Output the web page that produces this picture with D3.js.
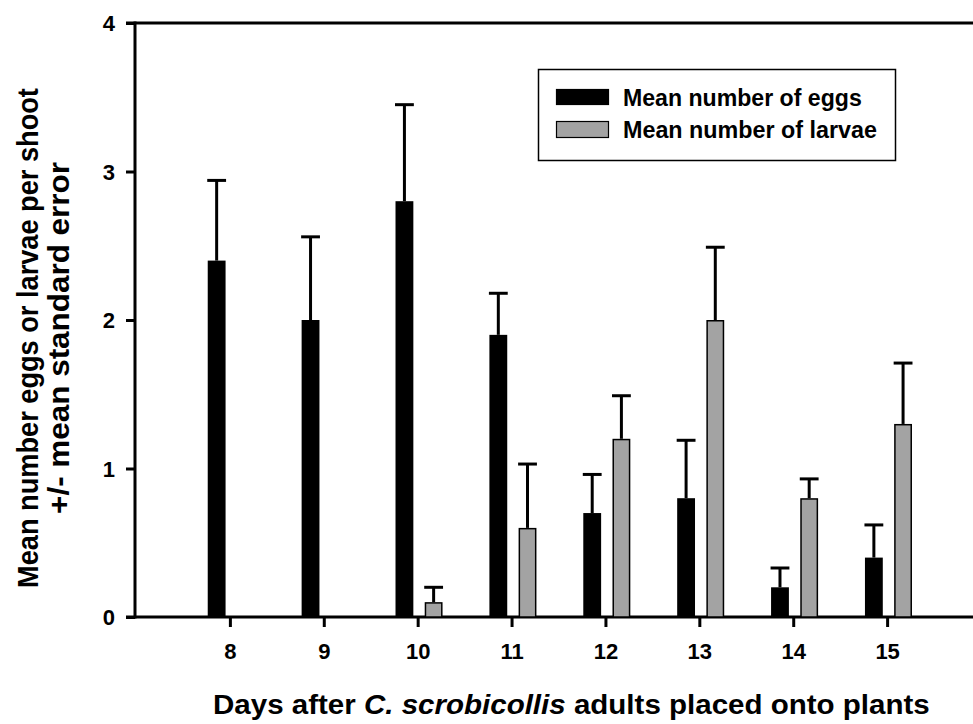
<!DOCTYPE html>
<html>
<head>
<meta charset="utf-8">
<script src="https://cdn.jsdelivr.net/npm/d3@7/dist/d3.min.js"></script>
<style>
  html, body { margin: 0; padding: 0; background: #fff; }
  svg { display: block; }
  text { font-family: "Liberation Sans", Arial, Helvetica, sans-serif; font-weight: bold; fill: #000; }
</style>
</head>
<body>
<svg id="chart" width="973" height="724"></svg>
<script>
// Days after adults were placed onto plants
const days = [8, 9, 10, 11, 12, 13, 14, 15];
// Mean number of eggs per shoot and its standard error
const eggMeans = [2.4, 2.0, 2.8, 1.9, 0.7, 0.8, 0.2, 0.4];
const eggSE    = [0.54, 0.56, 0.65, 0.28, 0.26, 0.39, 0.13, 0.22];
// Mean number of larvae per shoot and its standard error (none recorded on days 8 and 9)
const larvaMeans = [null, null, 0.1, 0.6, 1.2, 2.0, 0.8, 1.3];
const larvaSE    = [null, null, 0.1, 0.43, 0.29, 0.49, 0.13, 0.41];
const yTicks = [0, 1, 2, 3, 4];
const seriesNames = ["Mean number of eggs", "Mean number of larvae"];
const seriesColors = ["#000000", "#a3a3a3"];

const FONT = "'Liberation Sans', Arial, sans-serif";
const svg = d3.select("#chart");

const x = d3.scaleLinear().domain([7, 16]).range([136, 981]);
const y = d3.scaleLinear().domain([0, 4]).range([617, 23]);
const step = x(9) - x(8);
const barW = step * 0.19;
const offsets = [-step * 0.236, step * 0.075];

// stretch a text element horizontally so it spans the given width
function fitWidth(sel, w) {
  const natural = sel.node().getComputedTextLength();
  const k = w / natural;
  const ax = +sel.attr("x"), ay = +sel.attr("y");
  sel.attr("transform", `translate(${ax},${ay}) scale(${k},1) translate(${-ax},${-ay})`);
}

// frame: top line
svg.append("line").attr("x1", 126).attr("x2", 973).attr("y1", y(4)).attr("y2", y(4))
  .attr("stroke", "#000").attr("stroke-width", 3);

// y axis
const yAxis = svg.append("g").attr("transform", `translate(${x(7) - 1},0)`)
  .call(d3.axisLeft(y).tickValues(yTicks).tickFormat(d3.format("d")).tickSize(9).tickPadding(11));
yAxis.select(".domain").remove();
yAxis.append("line").attr("x1", 0).attr("x2", 0).attr("y1", y(4) - 1.5).attr("y2", y(0) + 1.5)
  .attr("stroke", "#000").attr("stroke-width", 3);
yAxis.selectAll(".tick line").attr("stroke", "#000").attr("stroke-width", 3);
yAxis.selectAll(".tick text").style("font-size", "22px").style("font-family", FONT)
  .style("font-weight", "bold").attr("fill", "#000").attr("dy", "0.36em");

// x axis
const xAxis = svg.append("g").attr("transform", `translate(0,${y(0)})`)
  .call(d3.axisBottom(x).tickValues(days).tickFormat(d3.format("d")).tickSize(10).tickPadding(16));
xAxis.select(".domain").remove();
xAxis.append("line").attr("x1", 126).attr("x2", 973).attr("y1", 0).attr("y2", 0)
  .attr("stroke", "#000").attr("stroke-width", 3);
xAxis.selectAll(".tick line").attr("stroke", "#000").attr("stroke-width", 3);
xAxis.selectAll(".tick text").style("font-size", "22px").style("font-family", FONT)
  .style("font-weight", "bold").attr("fill", "#000");

// bars with upper error bars
const series = [
  { means: eggMeans, se: eggSE, color: seriesColors[0], outline: 0 },
  { means: larvaMeans, se: larvaSE, color: seriesColors[1], outline: 1.5 }
];
series.forEach((s, si) => {
  const data = days.map((d, i) => ({ day: d, mean: s.means[i], se: s.se[i] }))
    .filter(d => d.mean !== null);
  const g = svg.append("g");
  g.selectAll("rect").data(data).join("rect")
    .attr("x", d => x(d.day) + offsets[si] + s.outline / 2)
    .attr("width", barW - s.outline)
    .attr("y", d => y(d.mean) + s.outline / 2)
    .attr("height", d => y(0) - y(d.mean) - s.outline / 2)
    .attr("fill", s.color)
    .attr("stroke", s.outline ? "#000" : "none")
    .attr("stroke-width", s.outline);
  const cx = d => x(d.day) + offsets[si] + barW / 2;
  g.selectAll("line.err").data(data).join("line").attr("class", "err")
    .attr("x1", cx).attr("x2", cx)
    .attr("y1", d => y(d.mean)).attr("y2", d => y(d.mean + d.se))
    .attr("stroke", "#000").attr("stroke-width", 3);
  g.selectAll("line.cap").data(data).join("line").attr("class", "cap")
    .attr("x1", d => cx(d) - barW / 2 - 0.5).attr("x2", d => cx(d) + barW / 2 + 0.5)
    .attr("y1", d => y(d.mean + d.se)).attr("y2", d => y(d.mean + d.se))
    .attr("stroke", "#000").attr("stroke-width", 3);
});

// legend
const legend = svg.append("g");
legend.append("rect").attr("x", 538.5).attr("y", 69.5).attr("width", 357).attr("height", 91)
  .attr("fill", "#fff").attr("stroke", "#000").attr("stroke-width", 1.5);
const legendRows = [{ y: 89, h: 15, base: 106, w: 239 }, { y: 121, h: 16, base: 138, w: 254 }];
seriesNames.forEach((name, i) => {
  const r = legendRows[i];
  legend.append("rect").attr("x", 556.5).attr("y", r.y + 0.5).attr("width", 52).attr("height", r.h)
    .attr("fill", seriesColors[i]).attr("stroke", "#000").attr("stroke-width", 1.2);
  const t = legend.append("text").attr("x", 623).attr("y", r.base).style("font-size", "24px").text(name);
  fitWidth(t, r.w);
});

// axis titles
const xt = svg.append("text").attr("x", 213).attr("y", 714).style("font-size", "27px");
xt.append("tspan").text("Days after ");
xt.append("tspan").style("font-style", "italic").text("C. scrobicollis");
xt.append("tspan").text(" adults placed onto plants");
fitWidth(xt, 717);

const yTitle = [
  { text: "Mean number eggs or larvae per shoot", x: 38, len: 500 },
  { text: "+/- mean standard error", x: 69, len: 352 }
];
yTitle.forEach(t => {
  const el = svg.append("text").attr("x", 0).attr("y", 0).style("font-size", "29px")
    .attr("text-anchor", "middle").text(t.text);
  const k = t.len / el.node().getComputedTextLength();
  el.attr("transform", `translate(${t.x},338) rotate(-90) scale(${k},1)`);
});
</script>
</body>
</html>
